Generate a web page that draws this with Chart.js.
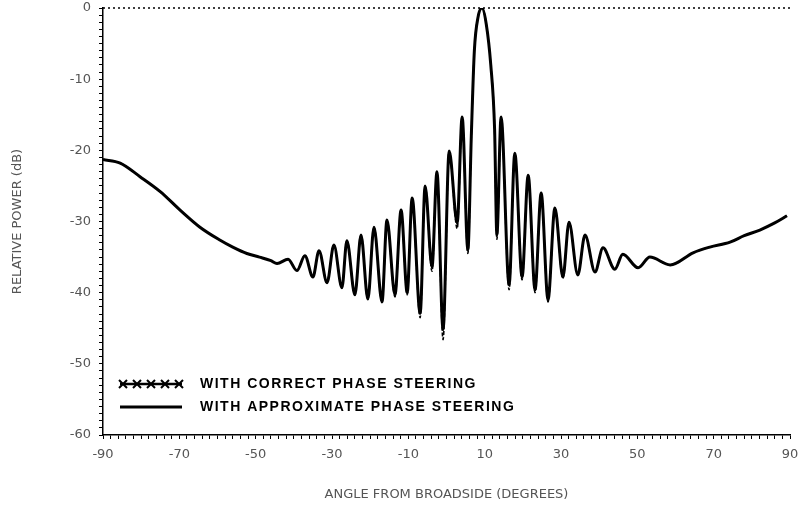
<!DOCTYPE html>
<html><head><meta charset="utf-8">
<script src="https://cdn.jsdelivr.net/npm/chart.js@4/dist/chart.umd.min.js"></script>
<style>html,body{margin:0;padding:0;background:#fff}#wrap{width:805px;height:518px}</style>
</head><body><div id="wrap"><canvas id="c" width="805" height="518"></canvas></div>
<script>
// Angle (degrees) at which the pattern was read
const angles = [-90,-85.5,-80.3,-75.0,-69.8,-64.6,-59.4,-56.0,-52.3,-49.0,-46.0,-44.4,-41.5,-39.2,-37.1,-35.0,-33.4,-31.3,-29.5,-27.4,-26.1,-24.0,-22.4,-20.6,-19.0,-16.9,-15.6,-13.5,-11.9,-10.3,-9.0,-6.9,-5.6,-3.8,-2.5,-0.9,0.7,2.8,4.1,5.6,6.5,7.3,8.3,9.3,10.4,11.6,12.6,13.2,14.3,16.4,17.9,19.8,21.4,23.2,24.8,26.6,28.4,30.5,32.1,34.4,36.3,38.9,41.0,44.1,46.2,50.2,53.3,58.6,64.6,69.0,74.3,78.0,82.1,86.0,89.2];
// Relative response (dB), approximate phase steering
const approxDb = [-21.3,-21.8,-23.7,-25.8,-28.4,-30.8,-32.6,-33.6,-34.5,-35.0,-35.5,-35.9,-35.3,-36.9,-34.8,-37.8,-34.1,-38.6,-33.3,-39.3,-32.7,-40.3,-31.9,-40.9,-30.8,-41.3,-29.8,-40.3,-28.4,-40.0,-26.7,-42.9,-25.0,-36.4,-23.0,-45.2,-20.1,-30.2,-15.3,-34.0,-18.0,-6.0,-1.2,0,-2.2,-8.0,-17.0,-31.9,-15.3,-38.9,-20.4,-37.8,-23.5,-39.6,-26.0,-41.0,-28.1,-37.8,-30.1,-37.5,-31.9,-37.1,-33.7,-36.7,-34.6,-36.5,-35.0,-36.1,-34.4,-33.6,-32.9,-32.0,-31.2,-30.2,-29.2];
// Relative response (dB), correct phase steering
const correctDb = [-21.3,-21.8,-23.7,-25.8,-28.4,-30.8,-32.6,-33.6,-34.5,-35.0,-35.5,-35.9,-35.3,-36.9,-34.8,-37.8,-34.1,-38.6,-33.3,-39.3,-32.7,-40.3,-31.9,-40.9,-30.8,-41.3,-29.8,-40.6,-28.4,-40.3,-26.7,-43.5,-25.0,-37.0,-23.0,-46.6,-20.1,-31.0,-15.3,-34.5,-18.0,-6.0,-1.2,0,-2.2,-8.0,-17.0,-32.5,-15.3,-39.6,-20.4,-38.2,-23.5,-40.0,-26.0,-41.3,-28.1,-38.0,-30.1,-37.5,-31.9,-37.1,-33.7,-36.7,-34.6,-36.5,-35.0,-36.1,-34.4,-33.6,-32.9,-32.0,-31.2,-30.2,-29.2];
const xTickLabels = [-90,-70,-50,-30,-10,10,30,50,70,90];
const yTickLabels = [0,-10,-20,-30,-40,-50,-60];
const seriesLabels = ['WITH CORRECT PHASE STEERING','WITH APPROXIMATE PHASE STEERING'];
const xTitle = 'ANGLE FROM BROADSIDE (DEGREES)';
const yTitle = 'RELATIVE POWER (dB)';

const toPts = vals => angles.map((a,i)=>({x:a,y:vals[i]}));

const frame = {
  id:'frame',
  afterDraw(chart){
    const {ctx, chartArea:a} = chart;
    ctx.save();
    ctx.strokeStyle='#000'; ctx.lineWidth=1.5; ctx.setLineDash([2,3]);
    ctx.beginPath(); ctx.moveTo(a.left,a.top); ctx.lineTo(a.right,a.top); ctx.stroke();
    ctx.restore();
  }
};
const legendIn = {
  id:'legendIn',
  afterDraw(chart){
    const {ctx, chartArea:a} = chart;
    const ds = chart.data.datasets;
    const x0 = a.left+17, x1 = a.left+79, tx = a.left+97;
    const rows = [a.top+376, a.top+399];
    ctx.save();
    ctx.fillStyle='#000'; ctx.strokeStyle='#000';
    ctx.font='bold 14px "Liberation Sans", Arial, sans-serif';
    ctx.letterSpacing='1.5px';
    ctx.textBaseline='middle';
    ctx.lineWidth=2.5; ctx.setLineDash([]);
    ctx.beginPath(); ctx.moveTo(x0,rows[0]); ctx.lineTo(x1,rows[0]); ctx.stroke();
    ctx.lineWidth=2;
    for(let i=0;i<5;i++){
      const cx = x0+3+i*(x1-x0-6)/4;
      ctx.beginPath(); ctx.moveTo(cx-4,rows[0]-4); ctx.lineTo(cx+4,rows[0]+4);
      ctx.moveTo(cx-4,rows[0]+4); ctx.lineTo(cx+4,rows[0]-4); ctx.stroke();
    }
    ctx.fillText(ds[1].label, tx, rows[0]);
    ctx.lineWidth=3;
    ctx.beginPath(); ctx.moveTo(x0,rows[1]); ctx.lineTo(x1,rows[1]); ctx.stroke();
    ctx.fillText(ds[0].label, tx, rows[1]);
    ctx.restore();
  }
};

new Chart(document.getElementById('c'), {
  type:'line',
  data:{datasets:[
    {label:seriesLabels[1], data:toPts(approxDb), borderColor:'#000', borderWidth:3, pointRadius:0, cubicInterpolationMode:'monotone', fill:false},
    {label:seriesLabels[0], data:toPts(correctDb), borderColor:'#000', borderWidth:1.6, borderDash:[4,2], pointRadius:0, cubicInterpolationMode:'monotone', fill:false}
  ]},
  options:{
    responsive:false, animation:false, events:[],
    layout:{padding:{top:8,right:15,left:0,bottom:0}},
    plugins:{legend:{display:false}, tooltip:{enabled:false}},
    scales:{
      x:{type:'linear', min:-90, max:90,
        afterFit(s){s.height=83; s.paddingRight=0;},
        ticks:{stepSize:2, autoSkip:false, maxRotation:0, padding:8, color:'#555',
          font:{size:13, family:'"DejaVu Sans", sans-serif'},
          callback:v=>xTickLabels.includes(v)?String(v):''},
        grid:{drawOnChartArea:false, drawTicks:true, tickLength:4, color:'#000', lineWidth:1},
        border:{display:true, color:'#000', width:1.5, dash:[2,2]},
        title:{display:true, text:xTitle, color:'#555', font:{size:13, family:'"DejaVu Sans", sans-serif'}, padding:{top:0,bottom:16}}
      },
      y:{type:'linear', min:-60, max:0,
        afterFit(s){s.width=103; s.paddingTop=0; s.paddingBottom=0;},
        ticks:{stepSize:1, autoSkip:false, padding:8, color:'#555',
          font:{size:13, family:'"DejaVu Sans", sans-serif'},
          callback:v=>yTickLabels.includes(v)?String(v):''},
        grid:{drawOnChartArea:false, drawTicks:true, tickLength:4, color:'#000', lineWidth:1},
        border:{display:true, color:'#000', width:1.5, dash:[2,2]},
        title:{display:true, text:yTitle, color:'#555', font:{size:13, family:'"DejaVu Sans", sans-serif'}, padding:{top:10,bottom:0}}
      }
    }
  },
  plugins:[frame, legendIn]
});
</script></body></html>
